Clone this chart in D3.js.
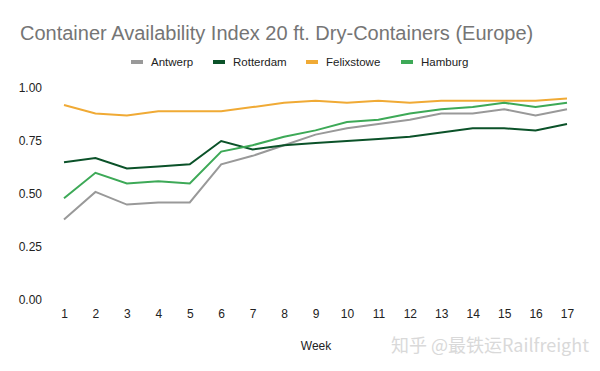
<!DOCTYPE html>
<html>
<head>
<meta charset="utf-8">
<script src="https://cdn.jsdelivr.net/npm/d3@7"></script>
<style>
  body { margin: 0; background: #fff; }
  text { font-family: Arial, "Liberation Sans", sans-serif; }
</style>
</head>
<body>
<div id="chart"></div>
<script>
// DATA
const weeks = [1, 2, 3, 4, 5, 6, 7, 8, 9, 10, 11, 12, 13, 14, 15, 16, 17];
const antwerp    = [0.38, 0.51, 0.45, 0.46, 0.46, 0.64, 0.68, 0.73, 0.78, 0.81, 0.83, 0.85, 0.88, 0.88, 0.90, 0.87, 0.90];
const rotterdam  = [0.65, 0.67, 0.62, 0.63, 0.64, 0.75, 0.71, 0.73, 0.74, 0.75, 0.76, 0.77, 0.79, 0.81, 0.81, 0.80, 0.83];
const felixstowe = [0.92, 0.88, 0.87, 0.89, 0.89, 0.89, 0.91, 0.93, 0.94, 0.93, 0.94, 0.93, 0.94, 0.94, 0.94, 0.94, 0.95];
const hamburg    = [0.48, 0.60, 0.55, 0.56, 0.55, 0.70, 0.73, 0.77, 0.80, 0.84, 0.85, 0.88, 0.90, 0.91, 0.93, 0.91, 0.93];
const yTicks = [0, 0.25, 0.5, 0.75, 1];

const series = [
  { name: "Antwerp", values: antwerp, color: "#999999" },
  { name: "Rotterdam", values: rotterdam, color: "#0b5229" },
  { name: "Felixstowe", values: felixstowe, color: "#f0aa35" },
  { name: "Hamburg", values: hamburg, color: "#3da957" }
];

// SIZE
const W = 600, H = 371;
const margin = { top: 88, right: 33, bottom: 71, left: 64 };

const svg = d3.select("#chart").append("svg")
  .attr("width", W)
  .attr("height", H);

// TITLE
svg.append("text")
  .attr("x", 20).attr("y", 40)
  .style("font-size", "20px")
  .style("fill", "#757575")
  .text("Container Availability Index 20 ft. Dry-Containers (Europe)");

// LEGEND
const legend = svg.append("g").attr("transform", "translate(131, 62)");
const legendX = [0, 82, 175, 270];
series.forEach((s, i) => {
  const g = legend.append("g").attr("transform", `translate(${legendX[i]}, 0)`);
  g.append("rect").attr("x", 0).attr("y", -2).attr("width", 12).attr("height", 4).attr("fill", s.color);
  g.append("text").attr("x", 20).attr("y", 4)
    .style("font-size", "11.5px").style("fill", "#222")
    .text(s.name);
});

const plot = svg.append("g").attr("transform", `translate(${margin.left}, ${margin.top})`);

// SCALES
const x = d3.scaleLinear().domain([1, 17]).range([0, 503]);
const y = d3.scaleLinear().domain([0, 1]).range([212, 0]);

// Y AXIS
const yAxis = plot.append("g")
  .call(d3.axisLeft(y).tickValues(yTicks).tickFormat(d3.format(".2f")).tickSize(0).tickPadding(22));
yAxis.select(".domain").remove();
yAxis.selectAll("text").style("font-size", "12px").style("fill", "#222")
  .style("font-family", "Arial, 'Liberation Sans', sans-serif");

// X AXIS
const xAxis = plot.append("g")
  .attr("transform", `translate(0, 212)`)
  .call(d3.axisBottom(x).tickValues(weeks).tickFormat(d3.format("d")).tickSize(0).tickPadding(9));
xAxis.select(".domain").remove();
xAxis.selectAll("text").style("font-size", "12px").style("fill", "#222")
  .style("font-family", "Arial, 'Liberation Sans', sans-serif");

// AXIS TITLE
svg.append("text")
  .attr("x", 316).attr("y", 350)
  .attr("text-anchor", "middle")
  .style("font-size", "12px").style("fill", "#222")
  .text("Week");

// LINES
const line = d3.line()
  .x((d, i) => x(weeks[i]))
  .y(d => y(d));

series.forEach(s => {
  plot.append("path")
    .datum(s.values)
    .attr("d", line)
    .style("fill", "none")
    .style("stroke", s.color)
    .style("stroke-width", 2);
});

// WATERMARK
svg.append("text")
  .attr("x", 589).attr("y", 352)
  .attr("text-anchor", "end")
  .style("font-size", "18px")
  .style("fill", "#d9d9d9")
  .style("font-family", "'Noto Sans CJK SC', sans-serif")
  .text("知乎 @最铁运Railfreight");
</script>
</body>
</html>
